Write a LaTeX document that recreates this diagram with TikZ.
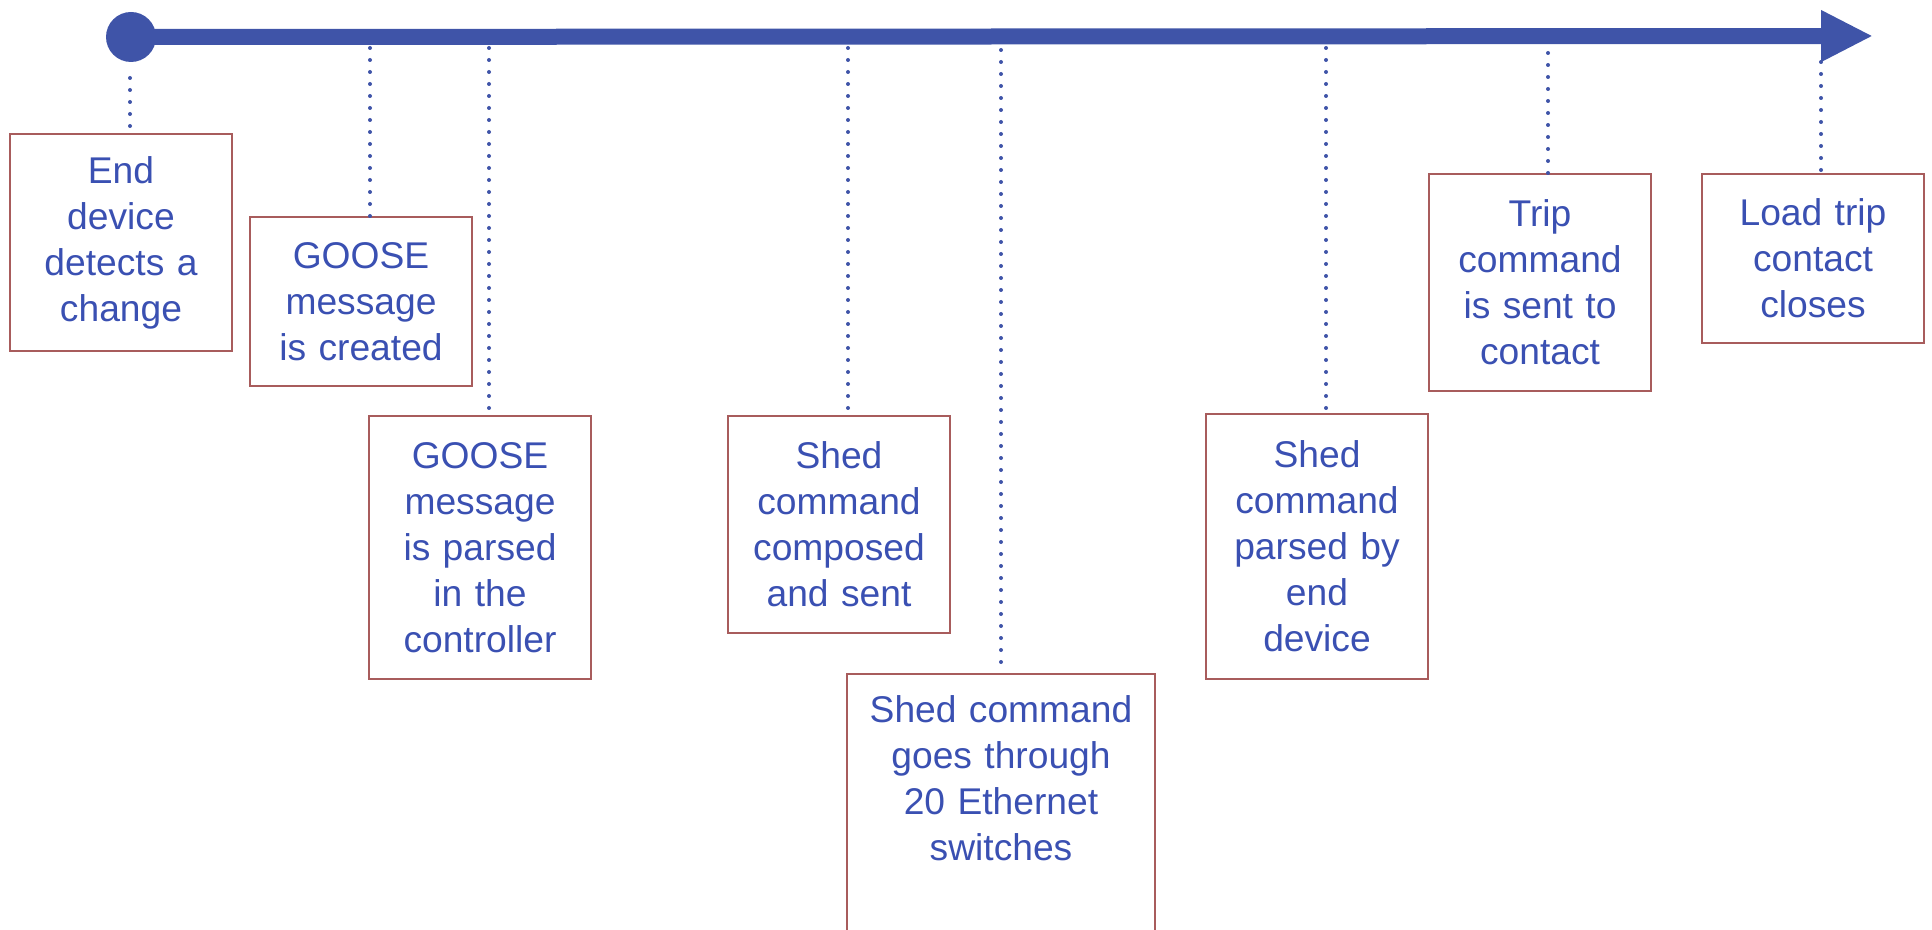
\documentclass[tikz,border=0pt]{standalone}
\usepackage{fontspec}
\setmainfont{Liberation Sans}
\usepackage{tikz}
\usetikzlibrary{arrows.meta}
\definecolor{lineblue}{RGB}{63,84,168}
\definecolor{textblue}{RGB}{58,80,178}
\definecolor{boxred}{RGB}{168,92,92}

\begin{document}
\begin{tikzpicture}[x=0.5pt,y=-0.5pt,
    event/.style={draw=boxred,line width=1.2pt,text=textblue,align=center,anchor=north,
        minimum width=111pt,text width=100pt,inner xsep=0pt,inner ysep=0pt,
        font=\fontsize{18.6pt}{23pt}\selectfont},
    tick/.style={lineblue,line width=2pt,line cap=round,dash pattern=on 0pt off 6pt}]
\useasboundingbox (0,0) rectangle (1932,930);

\node[circle,fill=lineblue,minimum size=25pt,inner sep=0pt] (start) at (131,37) {};
\coordinate (tip) at (1873,36);
\draw[lineblue,line width=8pt,-{Triangle[length=26pt,width=24pt]}] (start.center) -- (tip);

\node[event,minimum height=108.5pt] (e1) at (121,133) {End\\device\\detects a\\change};
\node[event,minimum height=84.5pt] (e2) at (361,216) {GOOSE\\message\\is created};
\node[event,minimum height=131.5pt] (e3) at (480,415) {GOOSE\\message\\is parsed\\in the\\controller};
\node[event,minimum height=108.5pt] (e4) at (839,415) {Shed\\command\\composed\\and sent};
\node[event,minimum width=154pt,text width=144pt,inner ysep=10.5pt,text depth=150pt] (e5) at (1001,673) {Shed command\\goes through\\20 Ethernet\\switches};
\node[event,minimum height=132.5pt] (e6) at (1317,413) {Shed\\command\\parsed by\\end\\device};
\node[event,minimum height=108.5pt] (e7) at (1540,173) {Trip\\command\\is sent to\\contact};
\node[event,minimum height=84.5pt] (e8) at (1813,173) {Load trip\\contact\\closes};

\coordinate (t1) at (130,78);
\coordinate (t2) at (370,48);
\coordinate (t3) at (489,48);
\coordinate (t4) at (848,48);
\coordinate (t5) at (1001,50);
\coordinate (t6) at (1326,48);
\coordinate (t7) at (1548,53);
\coordinate (t8) at (1821,62);

\foreach \i in {1,...,8}
  \draw[tick] (t\i) -- (t\i |- e\i.north);
\end{tikzpicture}
\end{document}
